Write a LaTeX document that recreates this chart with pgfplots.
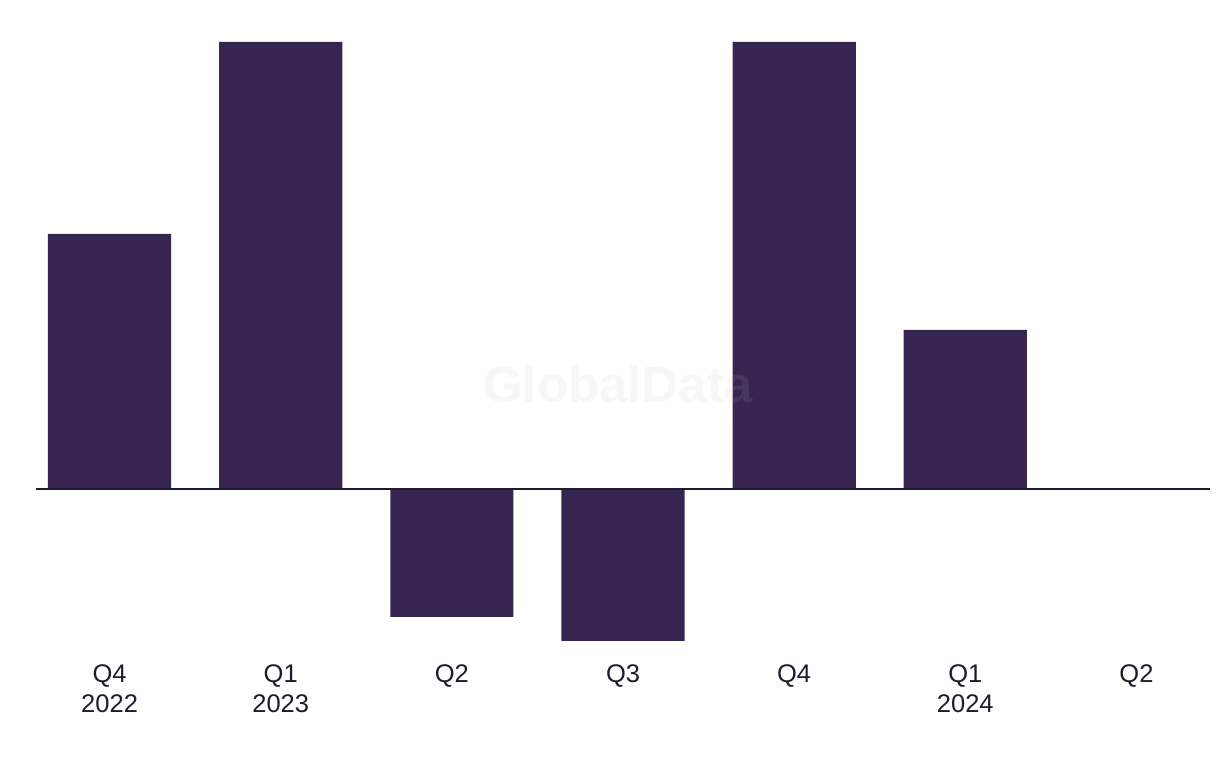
\documentclass[border=0pt]{standalone}
\usepackage{pgfplots}
\pgfplotsset{compat=1.18}
\usepackage{fontspec}
\setmainfont{Liberation Sans}
\definecolor{barc}{HTML}{372451}
\definecolor{txt}{HTML}{1C1C2E}
\begin{document}
\begin{tikzpicture}
\begin{axis}[
  scale only axis,
  width=1174pt, height=599pt,
  xmin=-0.43, xmax=6.43,
  ymin=-152, ymax=447,
  axis lines=none,
  clip=false,
  ybar, bar width=0.72, bar shift=0pt,
  xtick=data,
  ytick=\empty,
]
\addplot[fill=barc, draw=none] coordinates {(0,255) (1,447) (2,-128) (3,-152) (4,447) (5,159) (6,0)};
\draw[txt, line width=2pt] (axis cs:-0.43,0) -- (axis cs:6.43,0);
\node[text=gray!50, opacity=0.12, font=\fontsize{51}{51}\selectfont\bfseries] at (axis cs:2.97,105) {GlobalData};
\foreach \x/\lab in {0/{Q4\\2022},1/{Q1\\2023},2/{Q2},3/{Q3},4/{Q4},5/{Q1\\2024},6/{Q2}} {
  \edef\tmp{\noexpand\node[anchor=north, align=center, text=txt, font=\noexpand\fontsize{25.5}{30}\noexpand\selectfont, inner sep=0pt] at (axis cs:\x,-152) [yshift=-24pt] {\unexpanded\expandafter{\lab}};}
  \tmp
}
\end{axis}
\path (current axis.south west) ++(-36pt,-127pt) coordinate (bl);
\path (current axis.north east) ++(10pt,42pt) coordinate (tr);
\useasboundingbox (bl) rectangle (tr);
\end{tikzpicture}
\end{document}
